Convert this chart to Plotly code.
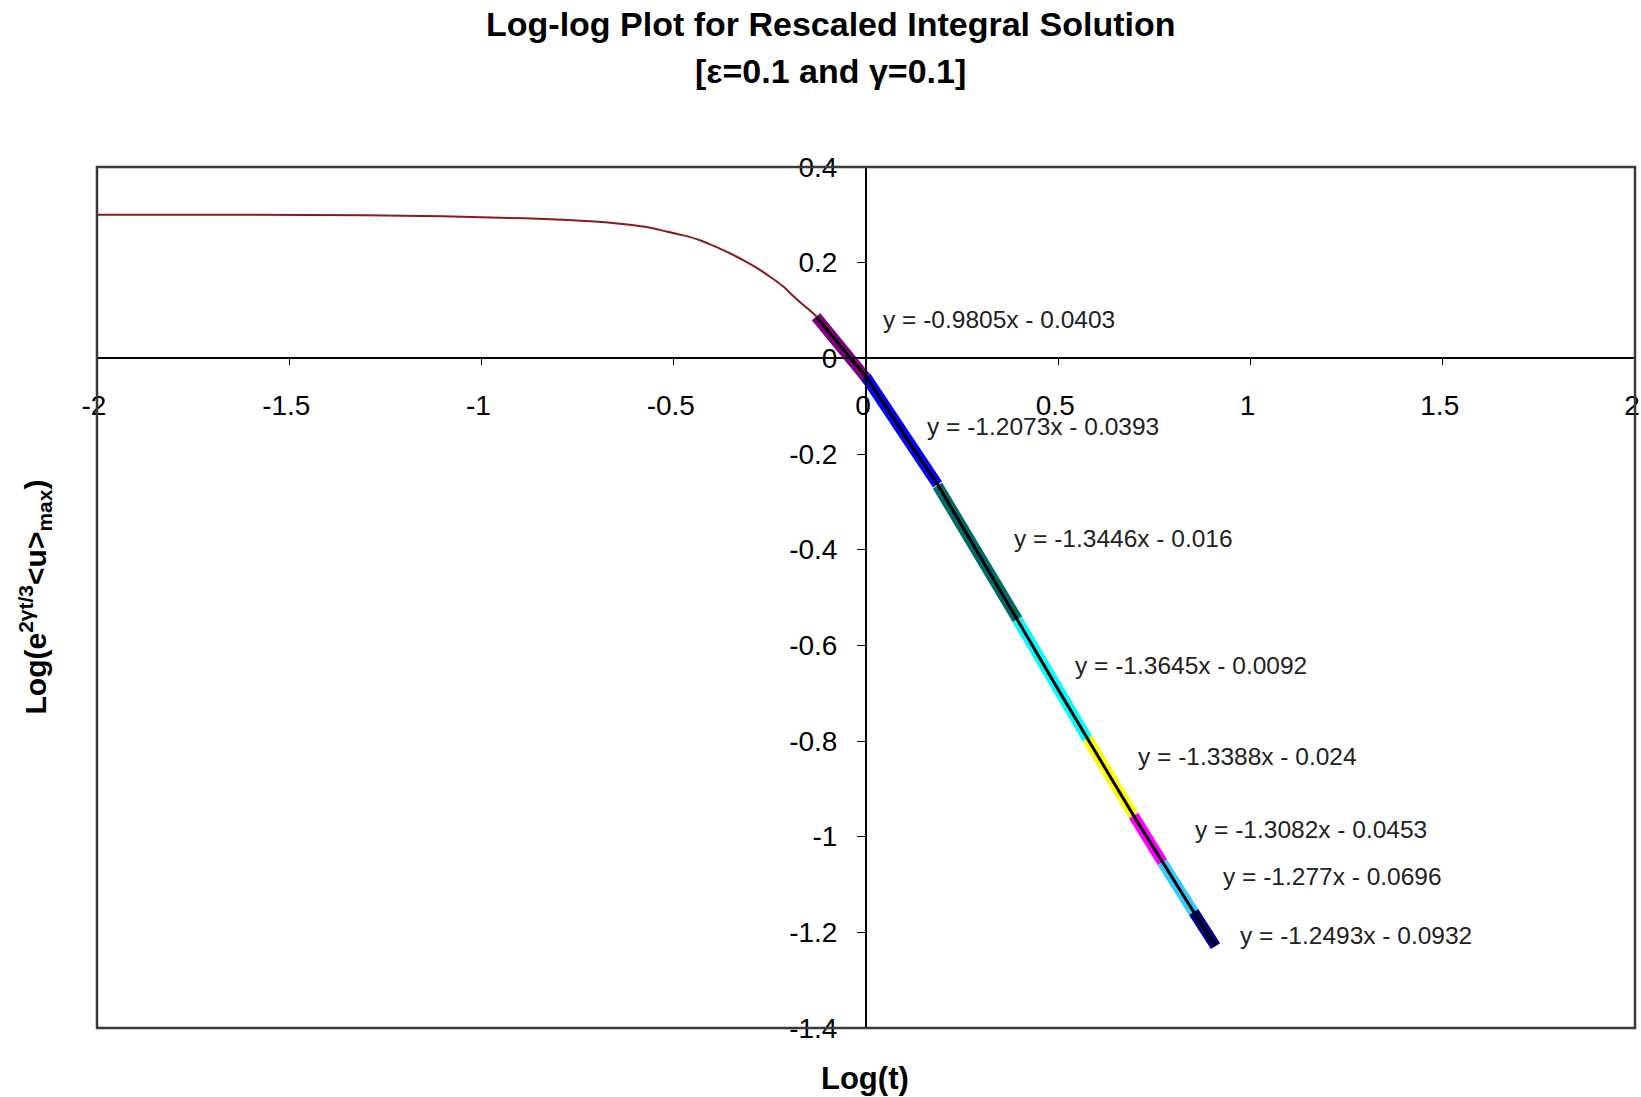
import plotly.graph_objects as go

# Rescaled integral solution, early-time part (brown curve)
early_logt = [-2.02, -1.6, -1.3, -1.1, -0.95, -0.82, -0.73, -0.66, -0.575, -0.518,
              -0.475, -0.432, -0.39, -0.345, -0.31, -0.276, -0.245, -0.215, -0.19,
              -0.172, -0.15, -0.128]
early_logu = [0.300, 0.300, 0.299, 0.297, 0.294, 0.291, 0.287, 0.283, 0.275, 0.265,
              0.257, 0.247, 0.233, 0.216, 0.201, 0.185, 0.168, 0.150, 0.131,
              0.118, 0.103, 0.087]

# Late-time part (black curve) that the linear fits are made on
late_logt = [-0.128, -0.06, 0.0, 0.06, 0.12, 0.186, 0.29, 0.394, 0.49, 0.576, 0.64,
             0.696, 0.735, 0.771, 0.81, 0.852, 0.88, 0.909]
late_logu = [0.086, 0.019, -0.038, -0.111, -0.185, -0.263, -0.404, -0.547, -0.679,
             -0.796, -0.881, -0.956, -1.007, -1.054, -1.104, -1.157, -1.192, -1.228]

# Piecewise linear fits: y = slope * x + intercept on [fit_from, fit_to]
fit_slopes = [-0.9805, -1.2073, -1.3446, -1.3645, -1.3388, -1.3082, -1.277, -1.2493]
fit_intercepts = [-0.0403, -0.0393, -0.016, -0.0092, -0.024, -0.0453, -0.0696, -0.0932]
fit_from = [-0.13, 0.0, 0.186, 0.394, 0.576, 0.696, 0.771, 0.852]
fit_to = [0.006, 0.186, 0.394, 0.576, 0.696, 0.771, 0.852, 0.909]
fit_colors = ["#800080", "#0000FF", "#006B66", "#00FFFF", "#FFFF00", "#FF00FF",
              "#33CCFF", "#000080"]

# where each fit's equation is written
eq_x = [0.039, 0.153, 0.380, 0.538, 0.701, 0.851, 0.924, 0.968]
eq_y = [0.082, -0.142, -0.376, -0.642, -0.833, -0.986, -1.084, -1.207]

# axis ticks
x_tick_vals = [-2, -1.5, -1, -0.5, 0, 0.5, 1, 1.5, 2]
x_tick_text = ["-2", "-1.5", "-1", "-0.5", "0", "0.5", "1", "1.5", "2"]
y_tick_vals = [0.4, 0.2, 0, -0.2, -0.4, -0.6, -0.8, -1, -1.2, -1.4]
y_tick_text = ["0.4", "0.2", "0", "-0.2", "-0.4", "-0.6", "-0.8", "-1", "-1.2", "-1.4"]

FONT = "Liberation Sans, Arial, sans-serif"

# plotting-area geometry in pixels (used to place text outside the axes)
W, H = 1641, 1097
ML, MR, MT, MB = 97, 6, 167, 69
PW, PH = W - ML - MR, H - MT - MB


def py(pix):
    """paper y for a pixel row measured from the top of the page"""
    return (H - MB - pix) / PH


def px(pix):
    """paper x for a pixel column measured from the left of the page"""
    return (pix - ML) / PW


fig = go.Figure()

for m, c, x0, x1, col in zip(fit_slopes, fit_intercepts, fit_from, fit_to, fit_colors):
    fig.add_trace(go.Scatter(
        x=[x0, x1], y=[m * x0 + c, m * x1 + c], mode="lines",
        line=dict(color=col, width=11), showlegend=False, hoverinfo="skip"))

fig.add_trace(go.Scatter(x=early_logt, y=early_logu, mode="lines",
                         line=dict(color="#8B1A1A", width=2, shape="spline", smoothing=0.6),
                         showlegend=False))
fig.add_trace(go.Scatter(x=late_logt, y=late_logu, mode="lines",
                         line=dict(color="#000000", width=3), showlegend=False))

for m, c, ex, ey in zip(fit_slopes, fit_intercepts, eq_x, eq_y):
    sign = "-" if c < 0 else "+"
    txt = f"y = {m:g}x {sign} {abs(c):g}"
    fig.add_annotation(x=ex, y=ey, xref="x", yref="y", text=txt, showarrow=False,
                       xanchor="left", yanchor="middle",
                       font=dict(family=FONT, size=24.5, color="#222222"))

# outer frame of the plotting area
fig.add_shape(type="rect", xref="paper", yref="paper", x0=0, x1=1, y0=0, y1=1,
              line=dict(color="#3A3A3A", width=2.5), layer="above")

fig.update_layout(
    width=W, height=H,
    margin=dict(l=ML, r=MR, t=MT, b=MB, autoexpand=False),
    paper_bgcolor="white", plot_bgcolor="white",
    font=dict(family=FONT, color="#000000"),
    xaxis=dict(range=[-2, 2], tickvals=x_tick_vals, ticktext=x_tick_text,
               anchor="free", position=1.4 / 1.8, ticklabeloverflow="allow",
               automargin=False, ticklabelshift=-3,
               showline=True, linecolor="#000000", linewidth=2, showgrid=False,
               zeroline=False, ticks="outside", ticklen=6, tickcolor="#000000",
               tickfont=dict(family=FONT, size=28, color="#000000"),
               ticklabelstandoff=16),
    yaxis=dict(range=[-1.4, 0.4], tickvals=y_tick_vals, ticktext=y_tick_text,
               anchor="free", position=0.5, ticklabeloverflow="allow",
               automargin=False,
               showline=True, linecolor="#000000", linewidth=2, showgrid=False,
               zeroline=False, ticks="outside", ticklen=8, tickcolor="#000000",
               tickfont=dict(family=FONT, size=28, color="#000000"),
               ticklabelstandoff=14),
)

# chart title, two lines
fig.add_annotation(text="<b>Log-log Plot for Rescaled Integral Solution</b>",
                   xref="paper", yref="paper", x=px(830), y=py(24),
                   xanchor="center", yanchor="middle", showarrow=False,
                   font=dict(family=FONT, size=34, color="#000000"))
fig.add_annotation(text="<b>[ε=0.1 and γ=0.1]</b>",
                   xref="paper", yref="paper", x=px(830), y=py(71),
                   xanchor="center", yanchor="middle", showarrow=False,
                   font=dict(family=FONT, size=34, color="#000000"))

# axis titles
fig.add_annotation(text="<b>Log(t)</b>", xref="paper", yref="paper", x=px(865),
                   y=py(1078), xanchor="center", yanchor="middle",
                   showarrow=False, font=dict(family=FONT, size=31, color="#000000"))
fig.add_annotation(text="<b>Log(e<sup>2γt/3</sup>&lt;u&gt;<sub>max</sub>)</b>",
                   xref="paper", yref="paper", x=px(35), y=0.5, textangle=-90,
                   xanchor="center", yanchor="middle", showarrow=False,
                   font=dict(family=FONT, size=30, color="#000000"))

fig.write_html("out.html")
